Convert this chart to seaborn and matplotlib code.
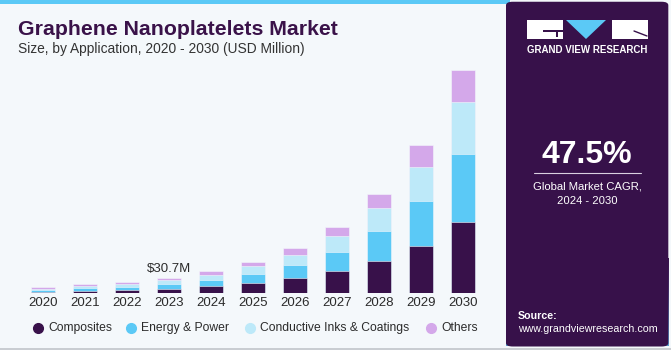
import numpy as np
import pandas as pd
import seaborn as sns
import matplotlib.pyplot as plt
from matplotlib.patches import FancyBboxPatch, Rectangle, Polygon
from matplotlib.lines import Line2D
from matplotlib.colors import LinearSegmentedColormap

years = ['2020', '2021', '2022', '2023', '2024', '2025', '2026', '2027', '2028', '2029', '2030']
composites = [3.0, 5.1, 6.6, 9.0, 14.3, 20.5, 29.9, 44.3, 65.6, 96.4, 145.6]
energy_power = [3.2, 4.5, 6.2, 10.0, 12.9, 19.1, 27.5, 39.8, 60.7, 92.3, 139.4]
inks_coatings = [2.6, 4.1, 5.3, 6.9, 9.6, 15.0, 21.1, 32.0, 48.0, 69.7, 106.6]
others = [2.6, 3.9, 4.5, 4.8, 8.2, 8.8, 13.7, 19.3, 29.3, 44.1, 65.6]

segments = ['Composites', 'Energy & Power', 'Conductive Inks & Coatings', 'Others']
colors = ['#38114a', '#5bc9f6', '#bde9f9', '#d4a8ea']
callout_year = '2023'
callout_text = '$30.7M'

bg = '#f4f8fb'
purple = '#37114a'
W, H = 671, 350


def fx(x):
    return x / W


def fy(y):
    return 1 - y / H


df = pd.DataFrame({'year': years, 'Composites': composites, 'Energy & Power': energy_power,
                   'Conductive Inks & Coatings': inks_coatings, 'Others': others})
stack = df[segments].cumsum(axis=1)
stack['year'] = df['year']

sns.set_theme(style='white')
plt.rcParams['font.family'] = ['Liberation Sans', 'DejaVu Sans']

fig = plt.figure(figsize=(6.71, 3.5), dpi=100)
fig.patch.set_facecolor(bg)

# top stripe and bottom border
fig.add_artist(Rectangle((0, fy(4)), fx(510), 4 / H, transform=fig.transFigure,
                         color='#5bc9f6', lw=0))
fig.add_artist(Rectangle((0, 0), 1, 2 / H, transform=fig.transFigure, color='#c9cdd2', lw=0))

ax = fig.add_axes([fx(22), 57 / H, 462 / W, 233 / H])
ax.set_facecolor(bg)
# layered cumulative bars: draw totals first, then each lower stack over it
for i in range(len(segments) - 1, -1, -1):
    sns.barplot(data=stack, x='year', y=segments[i], color=colors[i], width=0.57,
                saturation=1, edgecolor=bg, linewidth=0.4, ax=ax)
ax.set_ylim(0, 233 * 2.05)
ax.set_xlim(-0.5, len(years) - 0.5)
ax.set_xlabel('')
ax.set_ylabel('')
ax.set_yticks([])
ax.tick_params(axis='x', length=0, pad=3, labelsize=9.5, labelcolor='#2b2b2b')
for s in ax.spines.values():
    s.set_visible(False)

ci = years.index(callout_year)
ax.text(ci, stack['Others'][ci] + 7, callout_text, ha='center', va='bottom',
        fontsize=9.5, color='#2b2b2b')

# title
fig.text(fx(18), fy(35), 'Graphene Nanoplatelets Market', fontsize=15.3,
         fontweight='bold', color='#3a1249')
fig.text(fx(18), fy(53), 'Size, by Application, 2020 - 2030 (USD Million)',
         fontsize=9.95, color='#333333')

# legend
leg_marker_x = [38, 131, 250, 431]
for c, lab, x in zip(colors, segments, leg_marker_x):
    fig.add_artist(Line2D([fx(x)], [fy(328)], marker='o', ls='', markersize=7,
                          markerfacecolor=c, markeredgecolor=c, transform=fig.transFigure))
    fig.text(fx(x + 10), fy(328), lab, ha='left', va='center', fontsize=8.7, color='#2b2b2b')

# right panel
px0 = fx(506)
fig.add_artist(FancyBboxPatch((px0, 0.01), 1 - px0 - 0.004, 0.985, transform=fig.transFigure,
                              boxstyle='round,pad=0,rounding_size=0.01', color=purple, lw=0))
gax = fig.add_axes([px0, 4 / H, 1 - px0 - 0.004, 88 / H])
grad = np.linspace(0, 1, 100).reshape(-1, 1)
cmap = LinearSegmentedColormap.from_list('g', [purple, '#46326e', '#4f6e9e', '#5a9fcf'])
gax.imshow(grad, aspect='auto', cmap=cmap, origin='upper', extent=[0, 1, 0, 1])
for k in np.linspace(0.05, 0.95, 12):
    gax.plot([k, 0.5 + (k - 0.5) * 2.2], [0.75, 0], color='white', alpha=0.12, lw=0.5)
for k in [0.1, 0.25, 0.42, 0.6]:
    gax.plot([0, 1], [k, k], color='white', alpha=0.12, lw=0.5)
gax.set_xlim(0, 1)
gax.set_ylim(0, 1)
gax.axis('off')

# logo
fig.add_artist(Rectangle((fx(527), fy(39)), 36 / W, 19 / H,
                         transform=fig.transFigure, color='white', lw=0))
fig.add_artist(Rectangle((fx(543), fy(32)), 20 / W, 2 / H,
                         transform=fig.transFigure, color=purple, lw=0))
fig.add_artist(Rectangle((fx(556), fy(37)), 2 / W, 7 / H,
                         transform=fig.transFigure, color=purple, lw=0))
fig.add_artist(Polygon([[fx(566), fy(20)], [fx(606), fy(20)], [fx(586), fy(39)]], closed=True,
                       transform=fig.transFigure, color='#5bc9f6', lw=0))
fig.add_artist(Rectangle((fx(612), fy(39)), 36 / W, 19 / H,
                         transform=fig.transFigure, color='white', lw=0))
fig.add_artist(Line2D([fx(634), fx(647)], [fy(31), fy(36)],
                      transform=fig.transFigure, color=purple, lw=1))
fig.text(fx(587), fy(50), 'GRAND VIEW RESEARCH', ha='center', va='center',
         fontsize=7.0, fontweight='bold', color='white')

fig.text(fx(587), fy(155), '47.5%', ha='center', va='center', fontsize=23,
         fontweight='bold', color='white')
fig.add_artist(Line2D([fx(534), fx(641)], [fy(173), fy(173)],
                      transform=fig.transFigure, color='#d9d0e0', lw=0.8))
fig.text(fx(587), fy(186), 'Global Market CAGR,', ha='center', va='center',
         fontsize=8.1, color='white')
fig.text(fx(587), fy(201), '2024 - 2030', ha='center', va='center',
         fontsize=8.1, color='white')
fig.text(fx(518), fy(316), 'Source:', ha='left', va='center', fontsize=7.7,
         fontweight='bold', color='white')
fig.text(fx(518), fy(329), 'www.grandviewresearch.com', ha='left', va='center',
         fontsize=7.7, color='white')

fig.savefig('out.png', dpi=100, facecolor=bg)
